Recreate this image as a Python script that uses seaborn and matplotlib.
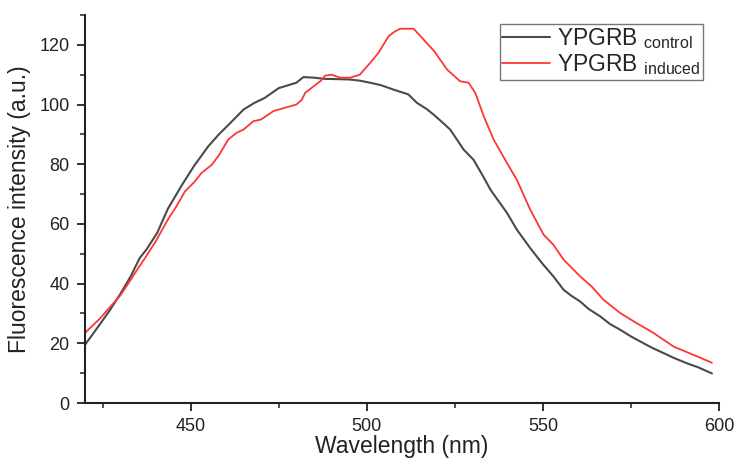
import matplotlib
matplotlib.use("Agg")
import matplotlib.pyplot as plt
from matplotlib.ticker import MultipleLocator
import seaborn as sns
import pandas as pd

# ---- data ----
control_wl = [420, 424, 427, 430, 433, 435.5, 437.5, 440.5, 443.5, 447.5, 451, 455, 458,
              461, 465, 468, 471, 475, 480, 482, 485, 488, 492, 495, 498, 501, 504,
              507.6, 511.8, 514.2, 517, 519, 521.5, 523.7, 527.5, 530.3, 533, 535.1,
              537.5, 539.8, 542.6, 546.4, 550, 553, 555.9, 558, 560.6, 563, 566.3, 569,
              572, 575, 578.6, 581, 584.3, 587, 590.9, 594, 598]
control_int = [19.5, 26, 31, 36.5, 42.5, 48.5, 51.5, 57, 65, 73, 79.5, 86, 90,
               93.5, 98.3, 100.5, 102.2, 105.5, 107.3, 109.2, 109, 108.6, 108.5, 108.4, 108, 107.3, 106.5,
               105, 103.4, 100.6, 98.5, 96.6, 94, 91.6, 84.9, 81.5, 76, 71.5,
               67.5, 63.7, 58.1, 51.9, 46.5, 42.4, 37.9, 36, 34, 31.5, 29, 26.5,
               24.5, 22.3, 20, 18.5, 16.7, 15.2, 13.3, 12, 9.9]

induced_wl = [420, 424, 427, 430, 432, 435, 437, 440, 443.5, 446, 448.4, 451, 453.1, 456,
              458, 460.7, 463, 465, 467.8, 470, 473.5, 477, 480, 481.5, 482.5, 484.9, 487,
              488.2, 490, 492.4, 495.3, 498, 501, 503.3, 506.2, 508, 509.5, 513.3, 516.1,
              519.2, 522.8, 526.5, 528.9, 530.8, 533.2, 536, 539.8, 542.6, 546.4, 550.2,
              553, 555.9, 560.6, 563.9, 567.2, 572, 576.7, 581.5, 587.1, 592.8, 598]
induced_int = [23.5, 28, 32, 36, 39.5, 45, 48.5, 54, 61.4, 66, 70.9, 74, 77.1, 79.8,
               83, 88.3, 90.5, 91.6, 94.4, 95, 97.8, 99, 100, 101.5, 103.9, 106.1, 108,
               109.7, 110, 109, 109, 110, 114, 117.3, 122.9, 124.5, 125.4, 125.4, 121.8,
               117.8, 111.7, 107.8, 107.3, 103.9, 96.1, 88.3, 80.4, 74.8, 64.8, 56.4,
               53, 48, 42.4, 39, 34.6, 30.1, 26.7, 23.4, 18.9, 16.1, 13.5]

labels = [r"YPGRB $_{\mathrm{control}}$", r"YPGRB $_{\mathrm{induced}}$"]
colors = ["#4a4a4a", "#ff3535"]
x_ticks = [450, 500, 550, 600]
y_ticks = [0, 20, 40, 60, 80, 100, 120]

# ---- style ----
sns.set_theme(style="ticks")
plt.rcParams["font.family"] = ["Liberation Sans", "DejaVu Sans"]
plt.rcParams["mathtext.fontset"] = "custom"
plt.rcParams["mathtext.rm"] = "Liberation Sans"
plt.rcParams["mathtext.it"] = "Liberation Sans:italic"
plt.rcParams["mathtext.bf"] = "Liberation Sans:bold"

fig = plt.figure(figsize=(7.35, 4.59), dpi=100)
ax = fig.add_axes([85 / 735, 1 - 403 / 459, (719 - 85) / 735, (403 - 15) / 459])

df_c = pd.DataFrame({"Wavelength": control_wl, "Intensity": control_int})
df_i = pd.DataFrame({"Wavelength": induced_wl, "Intensity": induced_int})
sns.lineplot(data=df_c, x="Wavelength", y="Intensity", ax=ax, color=colors[0],
             linewidth=1.5, label=labels[0])
sns.lineplot(data=df_i, x="Wavelength", y="Intensity", ax=ax, color=colors[1],
             linewidth=1.3, label=labels[1])

ax.set_xlim(420, 600)
ax.set_ylim(0, 130)
ax.set_xticks(x_ticks)
ax.set_yticks(y_ticks)
ax.xaxis.set_minor_locator(MultipleLocator(25))
ax.yaxis.set_minor_locator(MultipleLocator(10))

for s in ["top", "right"]:
    ax.spines[s].set_visible(False)
for s in ["left", "bottom"]:
    ax.spines[s].set_linewidth(1.5)
    ax.spines[s].set_color("#222222")

ax.tick_params(which="major", direction="out", length=6, width=1.3, color="#222222",
               labelsize=13, labelcolor="#222222", pad=5)
ax.tick_params(which="minor", direction="out", length=3.5, width=1.1, color="#222222")

ax.set_xlabel("Wavelength (nm)", fontsize=16.5, color="#222222", labelpad=0)
ax.set_ylabel("Fluorescence intensity (a.u.)", fontsize=16.5, color="#222222", labelpad=6)

leg = ax.legend(loc="upper left", bbox_to_anchor=((500 - 85) / 634, 1 - (24 - 15) / 388),
                fontsize=16.5, frameon=True, fancybox=False, handlelength=2.1,
                handletextpad=0.3, borderpad=0.1, labelspacing=0.05, borderaxespad=0)
leg.get_frame().set_edgecolor("#555555")
leg.get_frame().set_linewidth(1.0)

fig.savefig("out.png", dpi=100)
